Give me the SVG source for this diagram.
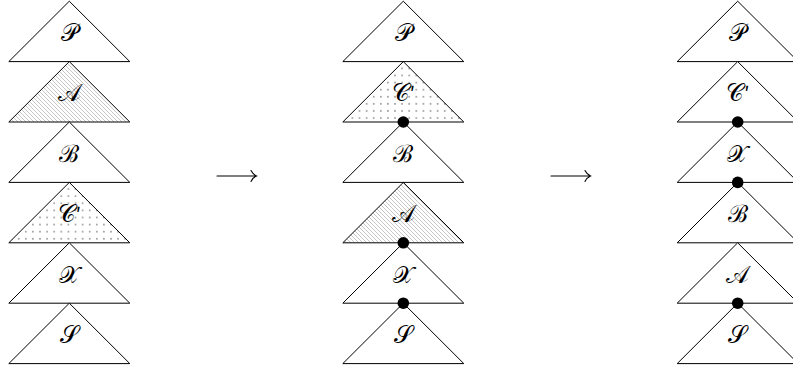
<svg xmlns="http://www.w3.org/2000/svg" width="793" height="372" viewBox="0 0 793 372">
<defs>
<pattern id="hatch" patternUnits="userSpaceOnUse" width="4" height="4">
<path d="M0,0 L4,4 M-1,3 L1,5 M3,-1 L5,1" stroke="#a0a0a0" stroke-width="0.6" fill="none"/>
</pattern>
<pattern id="dots" patternUnits="userSpaceOnUse" width="7.1" height="7.1" x="1" y="1">
<circle cx="3.5" cy="3.5" r="0.95" fill="#a0a0a0"/>
</pattern>
</defs>
<style>
.t{stroke:#000;stroke-width:1;fill:#fff;stroke-linejoin:miter}
.h{fill:url(#hatch)}
.d{fill:url(#dots)}
.l{font-family:"Liberation Serif","Noto Sans CJK SC",serif;font-size:24px;text-anchor:middle;fill:#000}
.pr{font-family:"Noto Sans CJK SC",sans-serif;font-size:20px}
.dot{fill:#000}
.arr{stroke:#000;stroke-width:1.1;fill:none;stroke-linecap:round}
</style>
<g id="col1">
<g id="c1-P"><path class="t" d="M69.3,1.2 L129.8,61.6 L8.8,61.6 Z"/><text class="l" x="69.3" y="41">𝒫</text></g>
<g id="c1-A"><path class="t h" d="M69.3,61.6 L129.8,122 L8.8,122 Z"/><text class="l" x="69.3" y="101.4">𝒜</text></g>
<g id="c1-B"><path class="t" d="M69.3,122 L129.8,182.4 L8.8,182.4 Z"/><text class="l" x="69.3" y="161.8">ℬ</text></g>
<g id="c1-C"><path class="t d" d="M69.3,182.4 L129.8,242.8 L8.8,242.8 Z"/><text class="l" x="69.3" y="222.2">𝒞<tspan class="pr">′</tspan></text></g>
<g id="c1-X"><path class="t" d="M69.3,242.8 L129.8,303.2 L8.8,303.2 Z"/><text class="l" x="69.3" y="282.6">𝒳</text></g>
<g id="c1-S"><path class="t" d="M69.3,303.2 L129.8,363.6 L8.8,363.6 Z"/><text class="l" x="69.3" y="343">𝒮</text></g>
</g>
<g id="col2">
<g id="c2-P"><path class="t" d="M403.3,1.2 L463.8,61.6 L342.8,61.6 Z"/><text class="l" x="403.3" y="41">𝒫</text></g>
<g id="c2-C"><path class="t d" d="M403.3,61.6 L463.8,122 L342.8,122 Z"/><text class="l" x="403.3" y="101.4">𝒞<tspan class="pr">′</tspan></text></g>
<g id="c2-B"><path class="t" d="M403.3,122 L463.8,182.4 L342.8,182.4 Z"/><text class="l" x="403.3" y="161.8">ℬ</text></g>
<g id="c2-A"><path class="t h" d="M403.3,182.4 L463.8,242.8 L342.8,242.8 Z"/><text class="l" x="403.3" y="222.2">𝒜</text></g>
<g id="c2-X"><path class="t" d="M403.3,242.8 L463.8,303.2 L342.8,303.2 Z"/><text class="l" x="403.3" y="282.6">𝒳</text></g>
<g id="c2-S"><path class="t" d="M403.3,303.2 L463.8,363.6 L342.8,363.6 Z"/><text class="l" x="403.3" y="343">𝒮</text></g>
</g>
<g id="col3">
<g id="c3-P"><path class="t" d="M737.7,1.2 L798.2,61.6 L677.2,61.6 Z"/><text class="l" x="737.7" y="41">𝒫</text></g>
<g id="c3-C"><path class="t" d="M737.7,61.6 L798.2,122 L677.2,122 Z"/><text class="l" x="737.7" y="101.4">𝒞<tspan class="pr">′</tspan></text></g>
<g id="c3-X"><path class="t" d="M737.7,122 L798.2,182.4 L677.2,182.4 Z"/><text class="l" x="737.7" y="161.8">𝒳</text></g>
<g id="c3-B"><path class="t" d="M737.7,182.4 L798.2,242.8 L677.2,242.8 Z"/><text class="l" x="737.7" y="222.2">ℬ</text></g>
<g id="c3-A"><path class="t" d="M737.7,242.8 L798.2,303.2 L677.2,303.2 Z"/><text class="l" x="737.7" y="282.6">𝒜</text></g>
<g id="c3-S"><path class="t" d="M737.7,303.2 L798.2,363.6 L677.2,363.6 Z"/><text class="l" x="737.7" y="343">𝒮</text></g>
</g>
<g id="connectors">
<circle class="dot" cx="403.3" cy="122" r="5.8"/>
<circle class="dot" cx="403.3" cy="242.8" r="5.8"/>
<circle class="dot" cx="403.3" cy="303.2" r="5.8"/>
<circle class="dot" cx="737.7" cy="122" r="5.8"/>
<circle class="dot" cx="737.7" cy="182.4" r="5.8"/>
<circle class="dot" cx="737.7" cy="303.2" r="5.8"/>
<path class="arr" d="M217,176 L256,176 M251,170.5 Q253,174.5 256.5,176 Q253,177.5 251,181.5"/>
<path class="arr" d="M551,176 L590,176 M585,170.5 Q587,174.5 590.5,176 Q587,177.5 585,181.5"/>
</g>
</svg>
